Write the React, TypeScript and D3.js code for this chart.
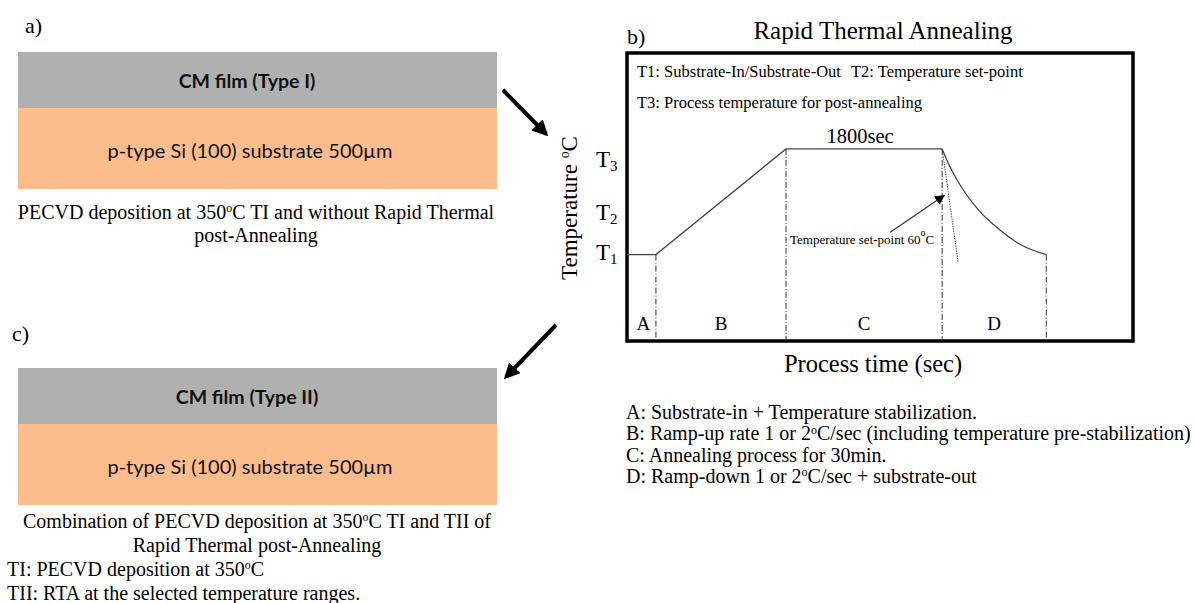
import React from "react";
import * as d3 from "d3";

// ---------- data ----------
const phases = ["A", "B", "C", "D"];
const phaseBounds = [0, 1.0, 5.5, 10.9, 14.5];
const tempLevels = [3.0, 4.45, 6.67]; // T1, T2, T3
const tempLabels = ["1", "2", "3"];
const holdLabel = "1800sec";
// ramp-down curve (time, temperature)
const coolTimes = [10.9, 11.1, 11.5, 12.2, 12.9, 13.6, 14.5];
const coolTemps = [6.67, 6.2, 5.45, 4.5, 3.85, 3.35, 3.0];
const tangentEnd = [11.45, 2.74];
const setpointArrow = [[9.1, 3.78], [10.97, 5.05]];
const boxNotes = ["T1: Substrate-In/Substrate-Out", "T2: Temperature set-point", "T3: Process temperature for post-annealing"];
const legendLines = [
  "A: Substrate-in + Temperature stabilization.",
  "B: Ramp-up rate 1 or 2|C/sec (including temperature pre-stabilization)",
  "C: Annealing process for 30min.",
  "D: Ramp-down 1 or 2|C/sec + substrate-out",
];
const layerTitles = ["CM film (Type I)", "CM film (Type II)"];
const substrateLabel = "p-type Si (100) substrate 500\u00b5m";

const serif = "'Liberation Serif', 'Times New Roman', serif";
const sans = "Lato, 'Open Sans', sans-serif";

function Deg({ text }: { text: string }) {
  // '|' marks a superscript small 'o' (degree)
  const parts = text.split("|");
  return (
    <>
      {parts.map((p, i) => (
        <React.Fragment key={i}>
          {i > 0 && (
            <tspan fontSize="0.6em" dy="-0.55em">o</tspan>
          )}
          {i > 0 ? <tspan dy="0.33em">{p}</tspan> : p}
        </React.Fragment>
      ))}
    </>
  );
}

function Stack({ y0, title }: { y0: number; title: string }) {
  const x0 = 18, w = 479;
  return (
    <g>
      <rect x={x0} y={y0} width={w} height={56} fill="#b0b0b0" />
      <rect x={x0} y={y0 + 56} width={w} height={81} fill="#fcbc8c" />
      <text x={247} y={y0 + 36} textAnchor="middle" fontFamily={sans} fontWeight="bold" fontSize={19.5} fill="#111">{title}</text>
      <text x={250} y={y0 + 106} textAnchor="middle" fontFamily={sans} fontSize={20} fill="#111">{substrateLabel}</text>
    </g>
  );
}

export default function App() {
  const bx0 = 627, bx1 = 1133, by0 = 53, by1 = 341;
  const x = d3.scaleLinear().domain([0, 17.5]).range([bx0, bx1]);
  const y = d3.scaleLinear().domain([0, 10]).range([by1, by0]);

  const T1 = tempLevels[0], T3 = tempLevels[2];
  const profilePts: [number, number][] = [
    [phaseBounds[0], T1],
    [phaseBounds[1], T1],
    [phaseBounds[2], T3],
    [phaseBounds[3], T3],
  ];
  const line = d3.line<[number, number]>().x(d => x(d[0])).y(d => y(d[1]));
  const coolLine = d3.line<[number, number]>().x(d => x(d[0])).y(d => y(d[1])).curve(d3.curveMonotoneX);
  const coolPts = coolTimes.map((t, i) => [t, coolTemps[i]] as [number, number]);

  const dashTops = [T1, T3, T3, coolTemps[coolTemps.length - 1]];
  const labelOffsets = [5, 7, 18];

  return (
    <svg width={1194} height={603} style={{ position: "absolute", left: 0, top: 0, background: "#fff" }}>
      <defs>
        <marker id="ah" viewBox="0 0 10 10" refX="8" refY="5" markerWidth="4" markerHeight="4" orient="auto">
          <path d="M0,0 L10,5 L0,10 z" fill="#000" />
        </marker>
        <marker id="ah2" viewBox="0 0 10 10" refX="9" refY="5" markerWidth="10" markerHeight="10" orient="auto" markerUnits="userSpaceOnUse">
          <path d="M0,0 L10,5 L0,10 z" fill="#000" />
        </marker>
      </defs>

      {/* panel a */}
      <text x={25} y={33} fontFamily={serif} fontSize={22}>a)</text>
      <Stack y0={52} title={layerTitles[0]} />
      <text fontFamily={serif} fontSize={20} textAnchor="middle">
        <tspan x={256} y={219}><Deg text="PECVD deposition at 350|C TI and without Rapid Thermal" /></tspan>
        <tspan x={256} y={242}>post-Annealing</tspan>
      </text>

      {/* arrows */}
      <line x1={503} y1={90} x2={546} y2={134} stroke="#000" strokeWidth={4} markerEnd="url(#ah)" />
      <line x1={556} y1={325} x2={506} y2={377} stroke="#000" strokeWidth={4} markerEnd="url(#ah)" />

      {/* panel c */}
      <text x={12} y={341} fontFamily={serif} fontSize={22}>c)</text>
      <Stack y0={368} title={layerTitles[1]} />
      <text fontFamily={serif} fontSize={20}>
        <tspan x={257} y={528} textAnchor="middle"><Deg text="Combination of PECVD deposition at 350|C TI and TII of" /></tspan>
        <tspan x={257} y={552} textAnchor="middle">Rapid Thermal post-Annealing</tspan>
      </text>
      <text fontFamily={serif} fontSize={20} x={7} y={576}><Deg text="TI: PECVD deposition at 350|C" /></text>
      <text fontFamily={serif} fontSize={20} x={7} y={600}>TII: RTA at the selected temperature ranges.</text>

      {/* panel b */}
      <text x={627} y={44} fontFamily={serif} fontSize={22}>b)</text>
      <text x={883} y={39} textAnchor="middle" fontFamily={serif} fontSize={25}>Rapid Thermal Annealing</text>
      <rect x={bx0} y={by0} width={bx1 - bx0} height={by1 - by0} fill="none" stroke="#000" strokeWidth={3.5} />
      <text x={637} y={77} fontFamily={serif} fontSize={16.5}>{boxNotes[0]}</text>
      <text x={851} y={77} fontFamily={serif} fontSize={16.5}>{boxNotes[1]}</text>
      <text x={637} y={108} fontFamily={serif} fontSize={16.5}>{boxNotes[2]}</text>

      {/* y label */}
      <text transform={`translate(577,208) rotate(-90)`} textAnchor="middle" fontFamily={serif} fontSize={23}>
        <Deg text="Temperature |C" />
      </text>
      {tempLevels.map((t, i) => (
        <text key={i} x={596} y={y(t) + labelOffsets[i]} fontFamily={serif} fontSize={23}>
          T<tspan fontSize={15} dy={4}>{tempLabels[i]}</tspan>
        </text>
      ))}

      {/* profile */}
      <path d={line(profilePts) || ""} fill="none" stroke="#444" strokeWidth={1.3} />
      <path d={coolLine(coolPts) || ""} fill="none" stroke="#444" strokeWidth={1.3} />
      {phaseBounds.slice(1).map((t, i) => (
        <line key={i} x1={x(t)} x2={x(t)} y1={y(dashTops[i])} y2={by1} stroke="#333" strokeWidth={1} strokeDasharray="6,2,1,2" />
      ))}
      {phases.map((p, i) => (
        <text key={p} x={(x(phaseBounds[i]) + x(phaseBounds[i + 1])) / 2 + (i === 0 ? 2 : 0)} y={330} textAnchor="middle" fontFamily={serif} fontSize={19}>{p}</text>
      ))}
      <text x={(x(phaseBounds[2]) + x(phaseBounds[3])) / 2 - 4} y={143} textAnchor="middle" fontFamily={serif} fontSize={20.5}>{holdLabel}</text>

      {/* tangent & setpoint annotation */}
      <line x1={x(phaseBounds[3])} y1={y(T3)} x2={x(tangentEnd[0])} y2={y(tangentEnd[1])} stroke="#555" strokeWidth={1} strokeDasharray="1.5,1" />
      <line x1={x(setpointArrow[0][0])} y1={y(setpointArrow[0][1])} x2={x(setpointArrow[1][0])} y2={y(setpointArrow[1][1])} stroke="#333" strokeWidth={1.2} markerEnd="url(#ah2)" />
      <text x={790} y={244} fontFamily={serif} fontSize={13}>
        Temperature set-point 60<tspan fontSize={10} dy={-8}>o</tspan><tspan dy={8}>C</tspan>
      </text>

      <text x={873} y={372} textAnchor="middle" fontFamily={serif} fontSize={24.5}>Process time (sec)</text>

      {legendLines.map((l, i) => (
        <text key={i} x={626} y={419 + i * 21.3} fontFamily={serif} fontSize={20}>
          <Deg text={l} />
        </text>
      ))}
    </svg>
  );
}
